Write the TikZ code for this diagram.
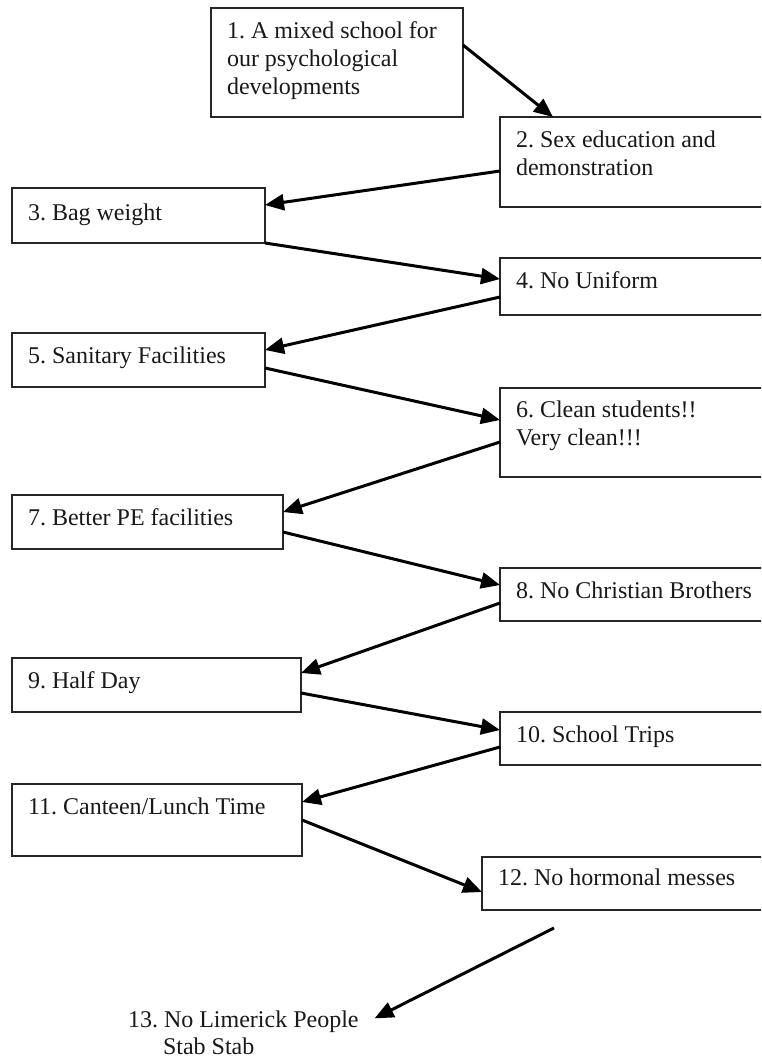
\documentclass[tikz,border=0pt]{standalone}
\usepackage{fontspec}
\setmainfont{Liberation Serif}
\usetikzlibrary{arrows.meta}
\frenchspacing
\begin{document}
\begin{tikzpicture}[x=1pt,y=-1pt,
  box/.style={draw=black!85, line width=1.5pt, rectangle, inner sep=0pt, outer sep=0pt, anchor=north west},
  txt/.style={anchor=base west, inner sep=0pt, outer sep=0pt, font=\fontsize{24}{28}\selectfont\frenchspacing, text=black!90},
  arr/.style={line width=3pt, black, -{Triangle[length=19pt,width=16pt]}}]
\clip (0,0) rectangle (761,1058);
\fill[white] (0,0) rectangle (761,1058);
% boxes
\node[box, minimum width=252pt, minimum height=109pt] (b1) at (211,8) {};
\node[box, minimum width=270pt, minimum height=90pt] (b2) at (500,117) {};
\node[box, minimum width=253pt, minimum height=55pt] (b3) at (12,188) {};
\node[box, minimum width=270pt, minimum height=57pt] (b4) at (500,258) {};
\node[box, minimum width=253pt, minimum height=54pt] (b5) at (12,333) {};
\node[box, minimum width=270pt, minimum height=89pt] (b6) at (500,388) {};
\node[box, minimum width=271pt, minimum height=54pt] (b7) at (12,495) {};
\node[box, minimum width=270pt, minimum height=53pt] (b8) at (500,568) {};
\node[box, minimum width=289pt, minimum height=54pt] (b9) at (12,658) {};
\node[box, minimum width=270pt, minimum height=53pt] (b10) at (500,712) {};
\node[box, minimum width=290pt, minimum height=72pt] (b11) at (12,784) {};
\node[box, minimum width=290pt, minimum height=53pt] (b12) at (482,857) {};
% texts
\node[txt] (t1) at (227,38) {\vtop{\hbox{1. A mixed school for}\hbox{our psychological}\hbox{developments}}};
\node[txt] (t2) at (516,147) {\vtop{\hbox{2. Sex education and}\hbox{demonstration}}};
\node[txt] (t3) at (28,220) {3. Bag weight};
\node[txt] (t4) at (516,288) {4. No Uniform};
\node[txt] (t5) at (28,363) {5. Sanitary Facilities};
\node[txt] (t6) at (516,417) {\vtop{\hbox{6. Clean students!!}\hbox{Very clean!!!}}};
\node[txt] (t7) at (28,525) {7. Better PE facilities};
\node[txt] (t8) at (516,598) {8. No Christian Brothers};
\node[txt] (t9) at (28,688) {9. Half Day};
\node[txt] (t10) at (516,742) {10. School Trips};
\node[txt] (t11) at (28,814) {11. Canteen/Lunch Time};
\node[txt] (t12) at (498,885) {12. No hormonal messes};
\node[txt] (t13) at (128,1027) {\vtop{\baselineskip=27pt\hbox{13. No Limerick People}\hbox{\hskip35pt Stab Stab}}};
\coordinate (c12) at (554,928);
% arrows
\draw[arr] ([yshift=-37pt]b1.north east) -- ([xshift=53pt]b2.north west);
\draw[arr] ([yshift=-54pt]b2.north west) -- ([yshift=-17pt]b3.north east);
\draw[arr] (b3.south east) -- ([yshift=-21pt]b4.north west);
\draw[arr] ([yshift=-39pt]b4.north west) -- ([yshift=-17pt]b5.north east);
\draw[arr] ([yshift=-35pt]b5.north east) -- ([yshift=-32pt]b6.north west);
\draw[arr] ([yshift=-54pt]b6.north west) -- ([yshift=-17pt]b7.north east);
\draw[arr] ([yshift=-37pt]b7.north east) -- ([yshift=-17pt]b8.north west);
\draw[arr] ([yshift=-35pt]b8.north west) -- ([yshift=-15pt]b9.north east);
\draw[arr] ([yshift=-35pt]b9.north east) -- ([yshift=-18pt]b10.north west);
\draw[arr] ([yshift=-35pt]b10.north west) -- ([yshift=-18pt]b11.north east);
\draw[arr] ([yshift=-36pt]b11.north east) -- ([yshift=-35pt]b12.north west);
\draw[arr] (c12) -- ([xshift=16pt,yshift=-8pt]t13.north east);
\end{tikzpicture}
\end{document}
